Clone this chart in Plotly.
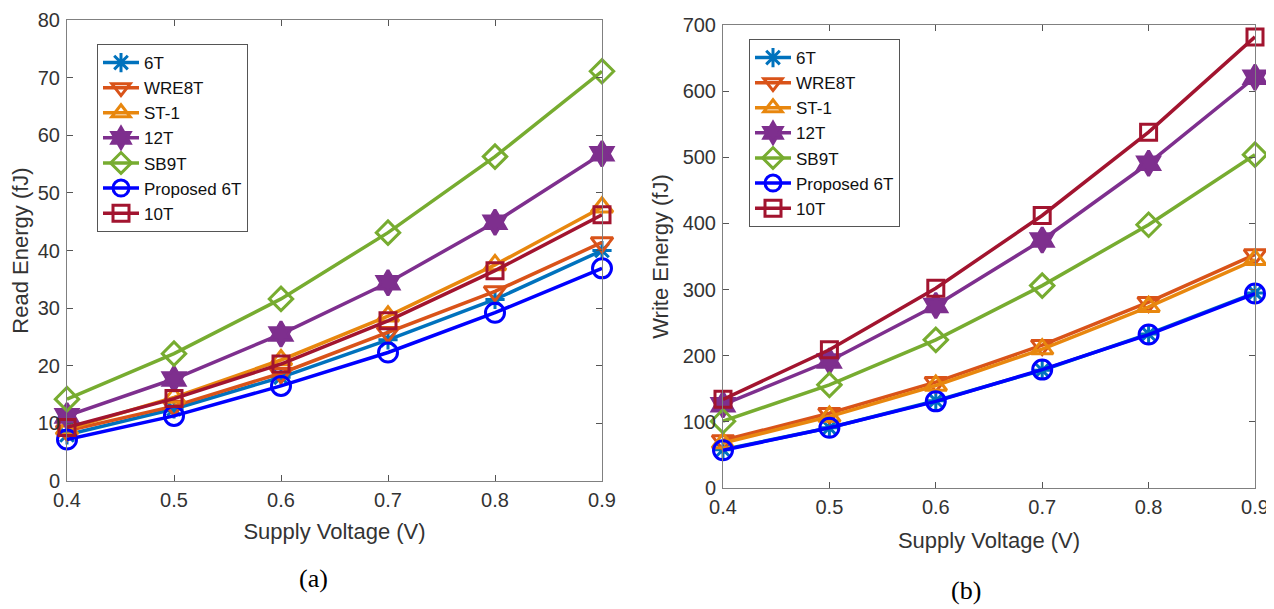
import plotly.graph_objects as go

voltage = [0.4, 0.5, 0.6, 0.7, 0.8, 0.9]
series_names = ["6T", "WRE8T", "ST-1", "12T", "SB9T", "Proposed 6T", "10T"]

read_6T = [8.0, 12.5, 18.0, 24.5, 31.5, 40.0]
read_WRE8T = [8.7, 13.0, 18.7, 25.8, 32.9, 41.4]
read_ST1 = [9.0, 14.5, 21.0, 28.6, 37.5, 47.5]
read_12T = [11.3, 17.7, 25.5, 34.4, 44.9, 56.8]
read_SB9T = [14.2, 22.1, 31.6, 43.1, 56.3, 71.1]
read_prop = [7.2, 11.3, 16.5, 22.3, 29.2, 36.9]
read_10T = [9.3, 14.3, 20.3, 27.8, 36.5, 46.2]

write_6T = [58, 91, 132, 178, 233, 295]
write_WRE8T = [72, 113, 160, 216, 281, 353]
write_ST1 = [68, 108, 155, 210, 274, 345]
write_12T = [126, 192, 276, 375, 491, 621]
write_SB9T = [101, 156, 224, 306, 398, 504]
write_prop = [57, 91, 131, 179, 232, 294]
write_10T = [134, 209, 302, 412, 538, 682]

read_ticks = [0, 10, 20, 30, 40, 50, 60, 70, 80]
write_ticks = [0, 100, 200, 300, 400, 500, 600, 700]
x_ticks = [0.4, 0.5, 0.6, 0.7, 0.8, 0.9]

colors = ["#0072BD", "#D95319", "#E8870E", "#7E2F8E", "#77AC30", "#0000FF", "#A2142F"]
symbols = ["asterisk-open", "triangle-down-open", "triangle-up-open", "hexagram",
           "diamond-open", "circle-open", "square-open"]
sizes = [16, 19, 19, 19, 18, 19, 16]

read_data = [read_6T, read_WRE8T, read_ST1, read_12T, read_SB9T, read_prop, read_10T]
write_data = [write_6T, write_WRE8T, write_ST1, write_12T, write_SB9T, write_prop, write_10T]

# page has an 8px body margin, so the figure is 8px smaller and shifted
W, H = 1266, 601

fig = go.Figure()

for i, name in enumerate(series_names):
    fig.add_trace(go.Scatter(
        x=voltage, y=read_data[i], name=name, mode="lines+markers",
        line=dict(color=colors[i], width=3.5),
        marker=dict(symbol=symbols[i], size=sizes[i], color=colors[i],
                    line=dict(color=colors[i], width=3)),
        cliponaxis=False, xaxis="x", yaxis="y", legend="legend",
    ))
for i, name in enumerate(series_names):
    fig.add_trace(go.Scatter(
        x=voltage, y=write_data[i], name=name, mode="lines+markers",
        line=dict(color=colors[i], width=3.5),
        marker=dict(symbol=symbols[i], size=sizes[i], color=colors[i],
                    line=dict(color=colors[i], width=3)),
        cliponaxis=False, xaxis="x2", yaxis="y2", legend="legend2",
    ))

tick_font = dict(family="Liberation Sans, Arial", size=20, color="#333333")
title_font = dict(family="Liberation Sans, Arial", size=22, color="#333333")
axis_common = dict(
    showline=True, linecolor="#808080", linewidth=1, mirror="ticks",
    ticks="inside", ticklen=6, tickcolor="#555555", showgrid=False, zeroline=False,
    tickfont=tick_font, automargin=False,
)

def px_x(v):
    return (v - 8) / W

def px_y(v):
    return 1 - (v - 8) / H

fig.update_layout(
    width=W, height=H,
    margin=dict(l=0, r=0, t=0, b=0, autoexpand=False),
    paper_bgcolor="white", plot_bgcolor="white",
    xaxis=dict(domain=[px_x(67), px_x(602)], range=[0.4, 0.9], tickvals=x_ticks,
               ticktext=[f"{v:.1f}" for v in x_ticks], ticklabelstandoff=1,
               title=dict(text="Supply Voltage (V)", font=title_font, standoff=13),
               anchor="y", **axis_common),
    yaxis=dict(domain=[px_y(481), px_y(20)], range=[0, 80], tickvals=read_ticks,
               ticklabelstandoff=2,
               title=dict(text="Read Energy (fJ)", font=title_font, standoff=5),
               anchor="x", **axis_common),
    xaxis2=dict(domain=[px_x(723), px_x(1255)], range=[0.4, 0.9], tickvals=x_ticks,
                ticktext=[f"{v:.1f}" for v in x_ticks], ticklabelstandoff=1,
                title=dict(text="Supply Voltage (V)", font=title_font, standoff=15),
                anchor="y2", **axis_common),
    yaxis2=dict(domain=[px_y(488), px_y(25)], range=[0, 700], tickvals=write_ticks,
                ticklabelstandoff=2,
                title=dict(text="Write Energy (fJ)", font=title_font, standoff=7),
                anchor="x2", **axis_common),
    legend=dict(x=px_x(97), y=px_y(44), xanchor="left", yanchor="top",
                bgcolor="white", bordercolor="#555555", borderwidth=1,
                font=dict(family="Liberation Sans, Arial", size=17, color="#111111"),
                tracegroupgap=0, itemwidth=36),
    legend2=dict(x=px_x(749), y=px_y(39), xanchor="left", yanchor="top",
                 bgcolor="white", bordercolor="#555555", borderwidth=1,
                 font=dict(family="Liberation Sans, Arial", size=17, color="#111111"),
                 tracegroupgap=0, itemwidth=36),
    annotations=[
        dict(text="(a)", x=px_x(313), y=px_y(578), xref="paper", yref="paper",
             xanchor="center", yanchor="middle", showarrow=False,
             font=dict(family="Liberation Serif, Times New Roman", size=26, color="black")),
        dict(text="(b)", x=px_x(966), y=px_y(590), xref="paper", yref="paper",
             xanchor="center", yanchor="middle", showarrow=False,
             font=dict(family="Liberation Serif, Times New Roman", size=26, color="black")),
    ],
)

fig.write_html("out.html")
